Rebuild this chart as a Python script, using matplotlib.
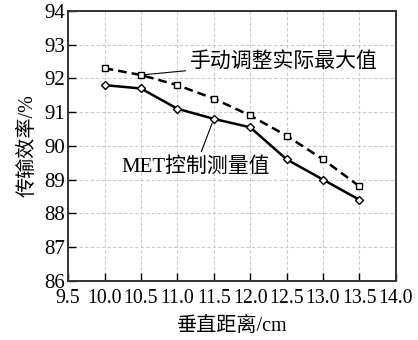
import matplotlib
matplotlib.use("Agg")
import matplotlib.pyplot as plt

distance = [10.0, 10.5, 11.0, 11.5, 12.0, 12.5, 13.0, 13.5]
manual_max = [92.3, 92.1, 91.8, 91.4, 90.9, 90.3, 89.6, 88.8]
met_measured = [91.8, 91.7, 91.1, 90.8, 90.55, 89.6, 89.0, 88.4]
xticks = [9.5, 10.0, 10.5, 11.0, 11.5, 12.0, 12.5, 13.0, 13.5, 14.0]
yticks = [86, 87, 88, 89, 90, 91, 92, 93, 94]

fam = ['Liberation Serif', 'Noto Sans CJK SC']
plt.rcParams['font.family'] = fam

fig = plt.figure(figsize=(4.18, 3.4), dpi=100)
ax = fig.add_axes([0.163, 0.174, 0.784, 0.794])

ax.plot(distance, manual_max, linestyle=(0, (3.5, 2)), color='black', linewidth=1.8,
        marker='s', markersize=4.5, markerfacecolor='white', markeredgecolor='black',
        markeredgewidth=1.0)
ax.plot(distance, met_measured, linestyle='-', color='black', linewidth=1.8,
        marker='D', markersize=4.5, markerfacecolor='white', markeredgecolor='black',
        markeredgewidth=1.0)

ax.set_xlim(9.5, 14.0)
ax.set_ylim(86, 94)
ax.set_xticks(xticks)
ax.set_xticklabels([f"{v:.1f}" for v in xticks])
ax.set_yticks(yticks)
ax.set_yticklabels([str(v) for v in yticks])
ax.tick_params(direction='in', length=6, width=1.0, colors='black')
ax.tick_params(axis='x', top=False, pad=6, labelsize=14.3)
ax.tick_params(axis='y', right=False, pad=2, labelsize=15)
for s in ax.spines.values():
    s.set_linewidth(1.4)
    s.set_color('#333333')
ax.grid(True, linestyle=(0, (3, 2)), color='#cccccc', linewidth=0.8)
ax.set_axisbelow(True)

ax.set_xlabel('垂直距离/cm', fontsize=14.5, family=fam, labelpad=6)
ax.set_ylabel('传输效率/%', fontsize=14.5, family=fam, labelpad=5)

ax.annotate('手动调整实际最大值', xy=(distance[1], manual_max[1]), xytext=(11.17, 92.5),
            fontsize=15, family=fam, va='center', ha='left',
            arrowprops=dict(arrowstyle='-', color='black', linewidth=0.8, shrinkA=1, shrinkB=3))
ax.annotate('MET控制测量值', xy=(distance[3], met_measured[3]), xytext=(11.25, 89.38),
            fontsize=15, family=fam, va='center', ha='center',
            arrowprops=dict(arrowstyle='-', color='black', linewidth=0.8, shrinkA=2, shrinkB=3))

fig.savefig('out.png', dpi=100)
